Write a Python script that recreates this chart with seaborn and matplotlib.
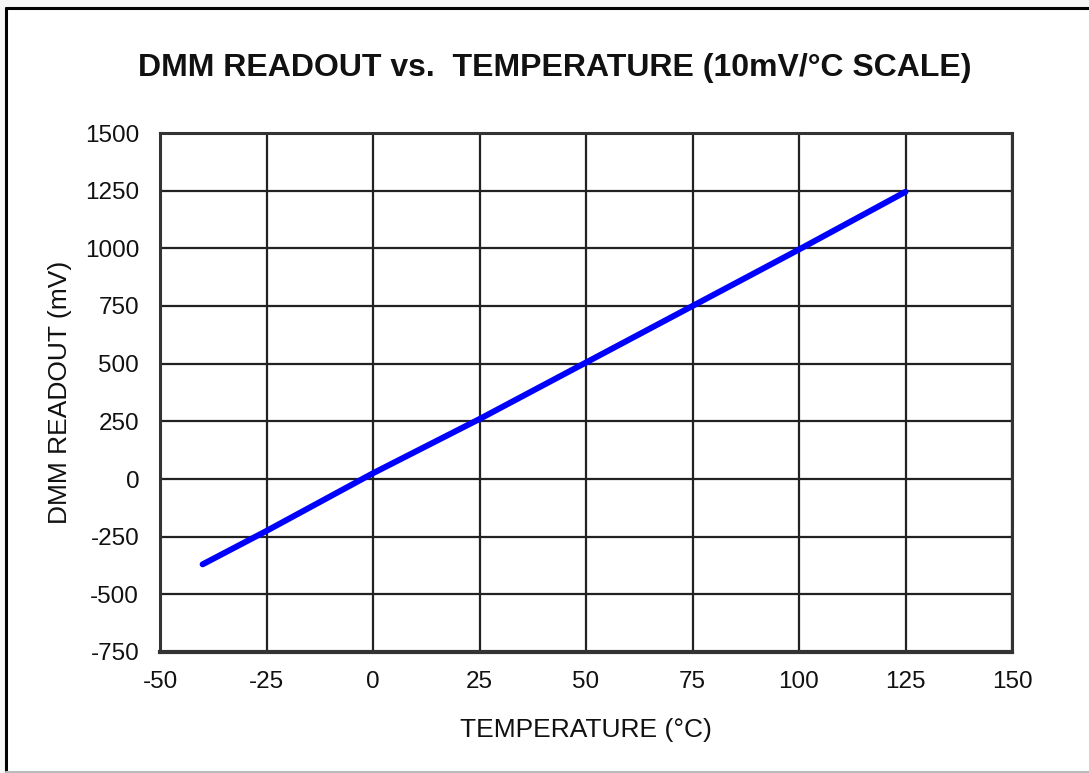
import pandas as pd
import matplotlib.pyplot as plt
import matplotlib.lines as mlines
import matplotlib.patches as mpatches
import seaborn as sns

# Data
temperature = [-40, -25, 0, 25, 50, 75, 100, 125]
readout = [-370, -225, 25, 260, 505, 750, 995, 1245]
x_ticks = [-50, -25, 0, 25, 50, 75, 100, 125, 150]
y_ticks = [-750, -500, -250, 0, 250, 500, 750, 1000, 1250, 1500]

df = pd.DataFrame({"Temperature": temperature, "Readout": readout})

sns.set_style("white")
plt.rcParams["font.family"] = ["Liberation Sans", "DejaVu Sans"]
plt.rcParams["axes.unicode_minus"] = False

fig = plt.figure(figsize=(10.89, 7.73), dpi=100)
fig.patch.set_facecolor("#f6f6f6")

# Frame around the chart
fig.patches.append(mpatches.Rectangle((7 / 1089, 2 / 773), 1 - 7 / 1089, 1 - 11 / 773,
                                      transform=fig.transFigure, facecolor="white",
                                      edgecolor="none", zorder=-10))
fig.lines.append(mlines.Line2D([6 / 1089, 6 / 1089], [2 / 773, 1 - 8 / 773],
                               transform=fig.transFigure, color="black", lw=2.2, zorder=-5))
fig.lines.append(mlines.Line2D([6 / 1089, 1], [1 - 8 / 773, 1 - 8 / 773],
                               transform=fig.transFigure, color="black", lw=2.2, zorder=-5))
fig.lines.append(mlines.Line2D([6 / 1089, 1], [1.5 / 773, 1.5 / 773],
                               transform=fig.transFigure, color="#bbbbbb", lw=1.5, zorder=-5))

ax = fig.add_axes([160 / 1089, 1 - 652 / 773, 852 / 1089, 519 / 773])
ax.set_facecolor("white")

sns.lineplot(data=df, x="Temperature", y="Readout", ax=ax, color="#0000ff",
             linewidth=4.3, solid_capstyle="round", zorder=3)

ax.set_xlim(-50, 150)
ax.set_ylim(-750, 1500)
ax.set_xticks(x_ticks)
ax.set_yticks(y_ticks)
ax.grid(True, color="#222222", linewidth=1.6)
for side, sp in ax.spines.items():
    sp.set_visible(True)
    sp.set_color("#333333")
    sp.set_linewidth(2.2)
ax.spines["bottom"].set_linewidth(3)
ax.tick_params(length=0, labelsize=17.5, colors="#111111")
ax.tick_params(axis="x", pad=14)
ax.tick_params(axis="y", pad=15)

ax.set_xlabel("TEMPERATURE (°C)", fontsize=19, color="#111111", labelpad=18)
ax.set_ylabel("DMM READOUT (mV)", fontsize=19, color="#111111", labelpad=9)

fig.text(555 / 1089, 1 - 68 / 773, "DMM READOUT vs.  TEMPERATURE (10mV/°C SCALE)",
         ha="center", va="center", fontsize=23, fontweight="bold", color="#111111")

fig.savefig("out.png", dpi=100, facecolor=fig.get_facecolor())
